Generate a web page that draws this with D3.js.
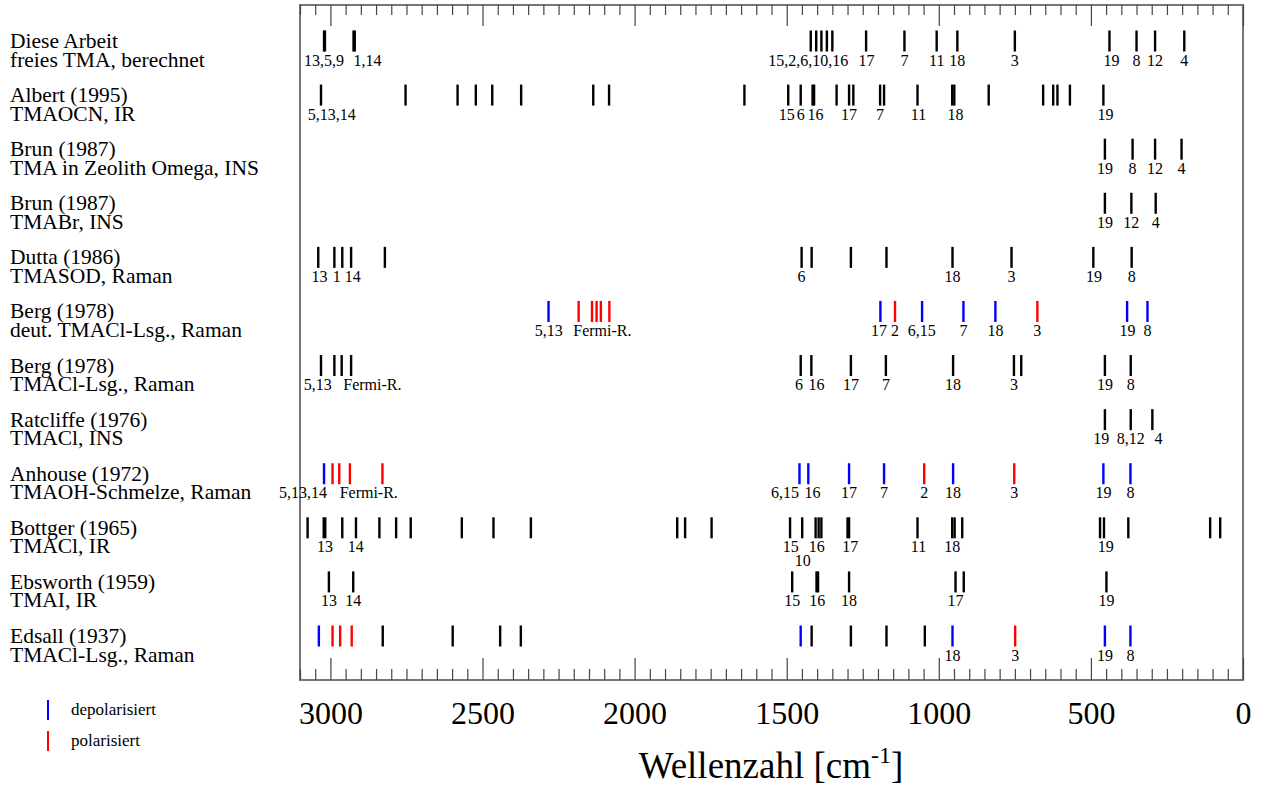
<!DOCTYPE html>
<html><head><meta charset="utf-8">
<script src="https://cdn.jsdelivr.net/npm/d3@7"></script>
<style>body{margin:0;background:#fff}svg{display:block}</style>
</head><body>
<script>
// ---- data ----
const rowTitles = [
  ["Diese Arbeit","freies TMA, berechnet"],
  ["Albert (1995)","TMAOCN, IR"],
  ["Brun (1987)","TMA in Zeolith Omega, INS"],
  ["Brun (1987)","TMABr, INS"],
  ["Dutta (1986)","TMASOD, Raman"],
  ["Berg (1978)","deut. TMACl-Lsg., Raman"],
  ["Berg (1978)","TMACl-Lsg., Raman"],
  ["Ratcliffe (1976)","TMACl, INS"],
  ["Anhouse (1972)","TMAOH-Schmelze, Raman"],
  ["Bottger (1965)","TMACl, IR"],
  ["Ebsworth (1959)","TMAI, IR"],
  ["Edsall (1937)","TMACl-Lsg., Raman"]
];
// band positions [wavenumber, polarisation: "" none, "d" depolarisiert, "p" polarisiert]
const bandsDiese = [[3021,""],[3018,""],[2924,""],[2920,""],[1421,""],[1403,""],[1386,""],[1368,""],[1350,""],[1239,""],[1113,""],[1007,""],[939,""],[750,""],[439,""],[350,""],[289,""],[193,""]];
const bandsAlbert = [[3031,""],[2753,""],[2582,""],[2522,""],[2468,""],[2373,""],[2136,""],[2084,""],[1639,""],[1495,""],[1454,""],[1415,""],[1410,""],[1336,""],[1295,""],[1281,""],[1193,""],[1180,""],[1070,""],[956,""],[949,""],[836,""],[657,""],[624,""],[610,""],[569,""],[459,""]];
const bandsBrunZeo = [[454,""],[363,""],[289,""],[202,""]];
const bandsBrunBr = [[454,""],[367,""],[287,""]];
const bandsDutta = [[3040,""],[2987,""],[2961,""],[2932,""],[2821,""],[1451,""],[1418,""],[1289,""],[1172,""],[955,""],[761,""],[492,""],[366,""]];
const bandsBergDeut = [[2283,"d"],[2184,"p"],[2140,"p"],[2125,"p"],[2111,"p"],[2083,"p"],[1192,"d"],[1144,"p"],[1055,"d"],[919,"d"],[814,"d"],[676,"p"],[381,"d"],[314,"d"]];
const bandsBerg = [[3031,""],[2987,""],[2963,""],[2932,""],[1454,""],[1419,""],[1289,""],[1174,""],[953,""],[753,""],[729,""],[454,""],[369,""]];
const bandsRatcliffe = [[454,""],[369,""],[298,""]];
const bandsAnhouse = [[3021,"d"],[2993,"p"],[2971,"p"],[2936,"p"],[2829,"p"],[1458,"d"],[1429,"d"],[1295,"d"],[1180,"d"],[1048,"p"],[953,"d"],[752,"p"],[459,"d"],[370,"d"]];
const bandsBottger = [[3075,""],[3022,""],[3017,""],[2961,""],[2916,""],[2839,""],[2784,""],[2736,""],[2568,""],[2464,""],[2341,""],[1860,""],[1834,""],[1747,""],[1489,""],[1449,""],[1405,""],[1395,""],[1386,""],[1300,""],[1295,""],[1070,""],[956,""],[948,""],[923,""],[470,""],[457,""],[377,""],[108,""],[75,""]];
const bandsEbsworth = [[3005,""],[2925,""],[1482,""],[1402,""],[1397,""],[1295,""],[945,""],[918,""],[449,""]];
const bandsEdsall = [[3038,"d"],[2993,"p"],[2968,"p"],[2930,"p"],[2828,""],[2598,""],[2442,""],[2374,""],[1454,"d"],[1418,""],[1289,""],[1172,""],[1046,""],[955,"d"],[749,"p"],[454,"d"],[370,"d"]];

// mode labels [wavenumber, text, line]
const labDiese = [[3021,"13,5,9",0],[2878,"1,14",0],[1429,"15,2,6,10,16",0],[1238,"17",0],[1113,"7",0],[1007,"11",0],[939,"18",0],[750,"3",0],[432,"19",0],[350,"8",0],[289,"12",0],[193,"4",0]];
const labAlbert = [[2996,"5,13,14",0],[1500,"15",0],[1454,"6",0],[1405,"16",0],[1295,"17",0],[1193,"7",0],[1067,"11",0],[945,"18",0],[452,"19",0]];
const labBrunZeo = [[454,"19",0],[363,"8",0],[289,"12",0],[202,"4",0]];
const labBrunBr = [[454,"19",0],[367,"12",0],[287,"4",0]];
const labDutta = [[3036,"13",0],[2979,"1",0],[2927,"14",0],[1451,"6",0],[955,"18",0],[761,"3",0],[490,"19",0],[366,"8",0]];
const labBergDeut = [[2282,"5,13",0],[2106,"Fermi-R.",0],[1197,"17",0],[1144,"2",0],[1056,"6,15",0],[919,"7",0],[814,"18",0],[676,"3",0],[380,"19",0],[314,"8",0]];
const labBerg = [[3042,"5,13",0],[2862,"Fermi-R.",0],[1460,"6",0],[1402,"16",0],[1289,"17",0],[1174,"7",0],[953,"18",0],[753,"3",0],[454,"19",0],[369,"8",0]];
const labRatcliffe = [[466,"19",0],[369,"8,12",0],[278,"4",0]];
const labAnhouse = [[3090,"5,13,14",0],[2874,"Fermi-R.",0],[1506,"6,15",0],[1415,"16",0],[1295,"17",0],[1180,"7",0],[1048,"2",0],[953,"18",0],[752,"3",0],[459,"19",0],[370,"8",0]];
const labBottger = [[3018,"13",0],[2917,"14",0],[1487,"15",0],[1447,"10",1],[1401,"16",0],[1291,"17",0],[1067,"11",0],[956,"18",0],[451,"19",0]];
const labEbsworth = [[3005,"13",0],[2925,"14",0],[1482,"15",0],[1400,"16",0],[1295,"18",0],[945,"17",0],[449,"19",0]];
const labEdsall = [[955,"18",0],[749,"3",0],[454,"19",0],[370,"8",0]];

const majorTicks = [3000,2500,2000,1500,1000,500,0];
const legendItems = [["d","depolarisiert"],["p","polarisiert"]];
const xTitle = "Wellenzahl [cm";
const xTitleSup = "-1";

const rowBands = [bandsDiese,bandsAlbert,bandsBrunZeo,bandsBrunBr,bandsDutta,bandsBergDeut,bandsBerg,bandsRatcliffe,bandsAnhouse,bandsBottger,bandsEbsworth,bandsEdsall];
const rowLabels = [labDiese,labAlbert,labBrunZeo,labBrunBr,labDutta,labBergDeut,labBerg,labRatcliffe,labAnhouse,labBottger,labEbsworth,labEdsall];

// ---- drawing ----
(function () {
const W = 1266, H = 785;
const svg = d3.select("body").append("svg").attr("width", W).attr("height", H);
const serif = "'Liberation Serif','Times New Roman',serif";
const colorOf = c => c === "d" ? "#0000ff" : c === "p" ? "#ff0000" : "#000";

const x = d3.scaleLinear().domain([3100, 0]).range([300, 1243]);
const y = d3.scaleLinear().domain([0, rowTitles.length - 1]).range([30.5, 625.5]);
const barH = 21;
const yTop = 5, yBot = 680;

const minorTicks = d3.range(0, 3101, 50).filter(v => v % 500 !== 0);

// frame
svg.append("rect").attr("x", x(3100)).attr("y", yTop).attr("width", x(0) - x(3100)).attr("height", yBot - yTop)
  .attr("fill", "none").attr("stroke", "#777").attr("stroke-width", 2);

function styleAxis(g) {
  g.select(".domain").remove();
  g.selectAll(".tick line").attr("stroke", "#444").attr("stroke-width", 1.2);
}
// top axis
svg.append("g").attr("transform", `translate(0,${yTop})`)
  .call(d3.axisTop(x).tickValues(minorTicks).tickSize(-10).tickFormat(""))
  .call(styleAxis);
svg.append("g").attr("transform", `translate(0,${yTop})`)
  .call(d3.axisTop(x).tickValues(majorTicks).tickSize(-21).tickFormat(""))
  .call(styleAxis);
// bottom axis
svg.append("g").attr("transform", `translate(0,${yBot})`)
  .call(d3.axisBottom(x).tickValues(minorTicks).tickSize(-11).tickFormat(""))
  .call(styleAxis);
const bAx = svg.append("g").attr("transform", `translate(0,${yBot})`)
  .call(d3.axisBottom(x).tickValues(majorTicks).tickSize(-22).tickPadding(21).tickFormat(d3.format("d")))
  .call(styleAxis);
bAx.selectAll(".tick text").attr("font-family", serif).attr("font-size", 32).attr("fill", "#000");

// axis title
const tt = svg.append("text").attr("x", 771).attr("y", 778).attr("text-anchor", "middle")
  .attr("font-family", serif).attr("font-size", 37).attr("fill", "#000");
tt.append("tspan").text(xTitle);
tt.append("tspan").attr("dy", -15).attr("font-size", 24).text(xTitleSup);
tt.append("tspan").attr("dy", 15).text("]");

// rows
rowTitles.forEach((t, i) => {
  const g = svg.append("g");
  const rt = g.append("text").attr("x", 10).attr("y", y(i) + 17.5)
    .attr("font-family", serif).attr("font-size", 21.5).attr("fill", "#000");
  rt.append("tspan").attr("x", 10).text(t[0]);
  rt.append("tspan").attr("x", 10).attr("dy", 18.5).text(t[1]);

  g.selectAll("line.band").data(rowBands[i]).enter().append("line")
    .attr("class", "band")
    .attr("x1", d => x(d[0])).attr("x2", d => x(d[0]))
    .attr("y1", y(i)).attr("y2", y(i) + barH)
    .attr("stroke", d => colorOf(d[1])).attr("stroke-width", 2.4);

  g.selectAll("text.lab").data(rowLabels[i]).enter().append("text")
    .attr("class", "lab")
    .attr("x", d => x(d[0])).attr("y", d => y(i) + 35 + d[2] * 14)
    .attr("text-anchor", "middle").attr("font-family", serif).attr("font-size", 16)
    .text(d => d[1]);
});

// legend
legendItems.forEach((d, i) => {
  const ly = 700 + i * 31;
  svg.append("line").attr("x1", 48).attr("x2", 48).attr("y1", ly).attr("y2", ly + 20)
    .attr("stroke", colorOf(d[0])).attr("stroke-width", 2);
  svg.append("text").attr("x", 71).attr("y", ly + 15).attr("font-family", serif).attr("font-size", 17).text(d[1]);
});
})();
</script>
</body></html>
